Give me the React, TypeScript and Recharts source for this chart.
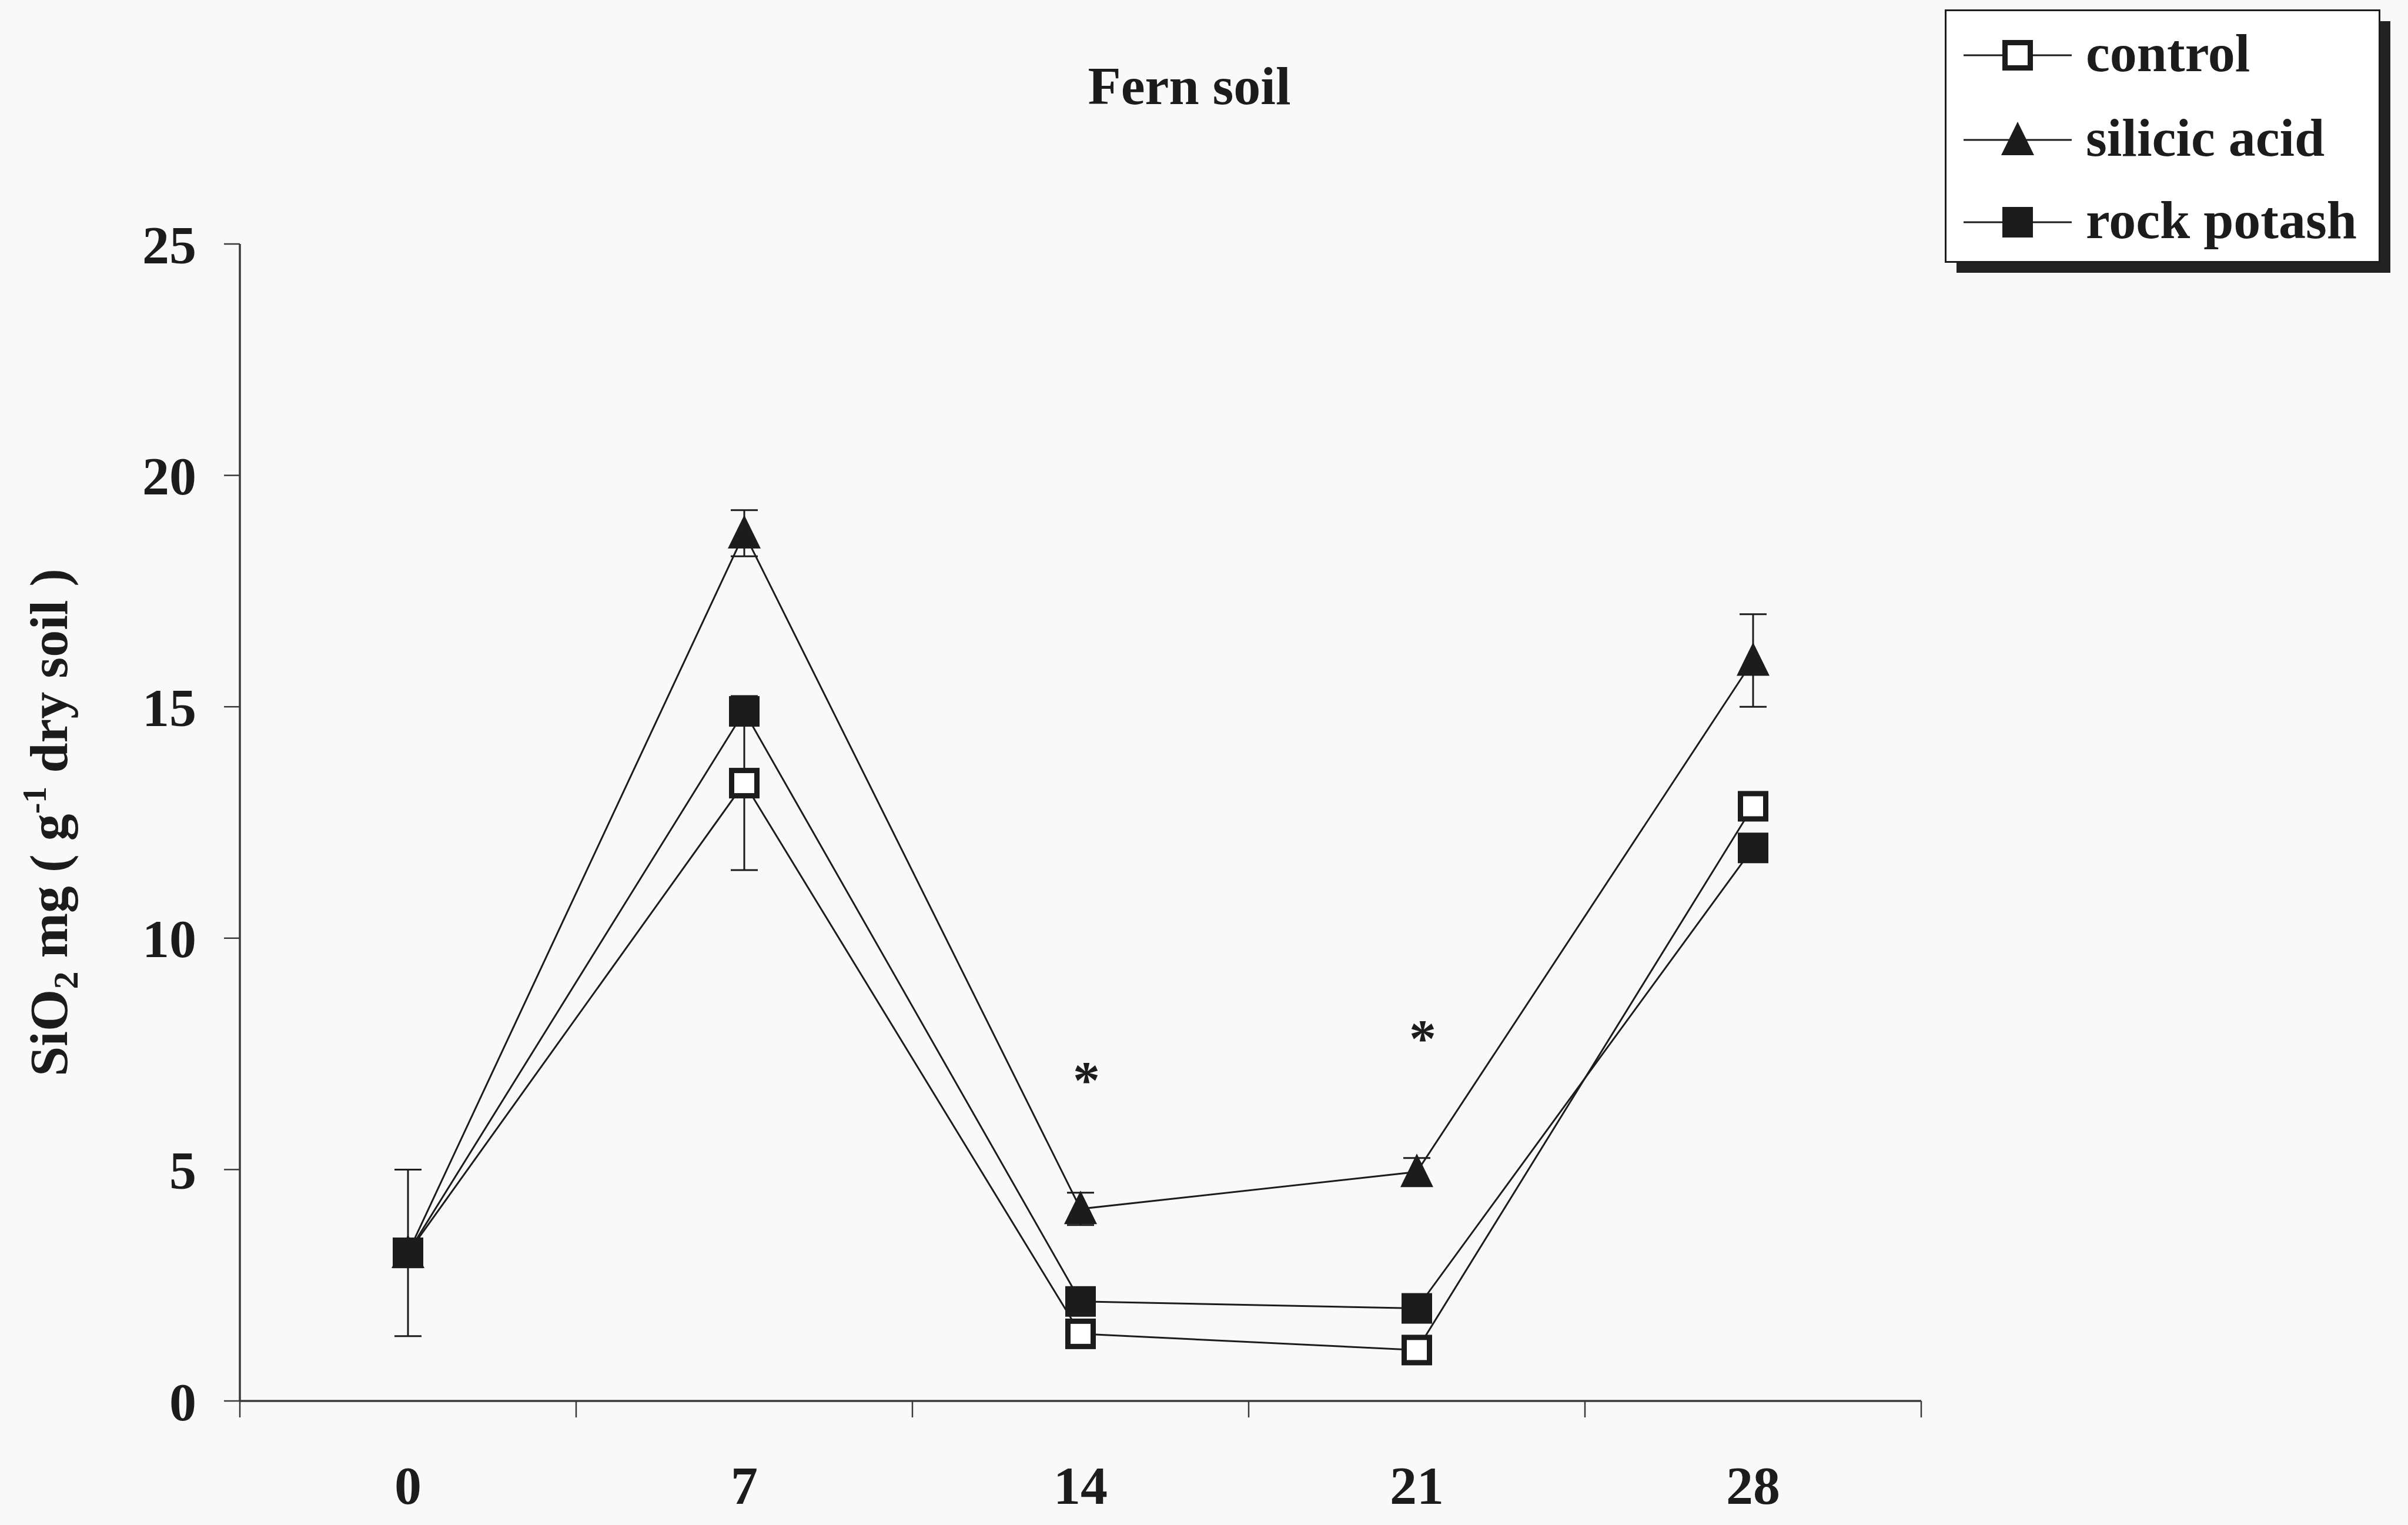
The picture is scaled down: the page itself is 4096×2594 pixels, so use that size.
import React from 'react';
import { LineChart, Line, XAxis, YAxis, ErrorBar, ReferenceDot, Legend } from 'recharts';

// ---------- data ----------
const days = [0, 7, 14, 21, 28];
const dayBoundaries = [-3.5, 3.5, 10.5, 17.5, 24.5, 31.5];
const yTicks = [0, 5, 10, 15, 20, 25];
const seriesNames = ['control', 'silicic acid', 'rock potash'];
const controlValues = [3.2, 13.35, 1.45, 1.1, 12.85];
const controlErrors = [1.8, 1.88, 0, 0, 0];
const silicicValues = [3.2, 18.75, 4.15, 4.95, 16.0];
const silicicErrors = [0, 0.5, 0.35, 0.3, 1.0];
const rockValues = [3.2, 14.9, 2.15, 2.0, 11.95];
const significanceStars = [
  { day: 14, y: 7.1 },
  { day: 21, y: 8.0 },
];
const chartTitle = 'Fern soil';

const data = days.map((d, i) => ({
  day: d,
  control: controlValues[i],
  controlErr: controlErrors[i],
  silicic: silicicValues[i],
  silicicErr: silicicErrors[i],
  rock: rockValues[i],
}));

// ---------- style ----------
const W = 4096;
const H = 2594;
const INK = '#1c1c1c';
const AXIS = '#3a3a3a';
const FONT = '"Liberation Serif", "Times New Roman", serif';
const FS = 92;
const MARK = 52;

const openSquare = (cx: number, cy: number, key?: any) => {
  const sw = 9;
  return (
    <rect key={key} x={cx - MARK / 2 + sw / 2} y={cy - MARK / 2 + sw / 2} width={MARK - sw} height={MARK - sw}
      fill="#ffffff" stroke={INK} strokeWidth={sw} />
  );
};
const filledSquare = (cx: number, cy: number, key?: any) => (
  <rect key={key} x={cx - MARK / 2} y={cy - MARK / 2} width={MARK} height={MARK} fill={INK} />
);
const triangle = (cx: number, cy: number, key?: any) => (
  <polygon key={key} points={`${cx},${cy - 31} ${cx + 28},${cy + 26} ${cx - 28},${cy + 26}`} fill={INK} />
);
const markerFor: Record<string, (cx: number, cy: number, key?: any) => any> = {
  'control': openSquare,
  'silicic acid': triangle,
  'rock potash': filledSquare,
};

const dotRenderer = (name: string) => (p: any) => {
  if (p.cx == null || p.cy == null) return <g key={p.index} />;
  return markerFor[name](p.cx, p.cy, `${name}-${p.index}`);
};

const LegendBox = (props: any) => {
  const payload: any[] = props.payload || [];
  const ordered = seriesNames
    .map((n) => payload.find((e) => e.value === n))
    .filter(Boolean);
  const bw = 738;
  const bh = 428;
  const rowY = [78, 222, 362];
  return (
    <svg width={780} height={470} style={{ display: 'block' }}>
      <rect x={20} y={20} width={bw} height={bh} fill="#222" />
      <rect x={1.5} y={1.5} width={bw} height={bh} fill="#ffffff" stroke={INK} strokeWidth={3} />
      {ordered.map((entry: any, i: number) => {
        const cy = rowY[i];
        return (
          <g key={entry.value}>
            <line x1={32} x2={216} y1={cy} y2={cy} stroke={INK} strokeWidth={3} />
            {markerFor[entry.value](124, cy)}
            <text x={240} y={cy + 27} fontFamily={FONT} fontWeight="bold" fontSize={FS} fill={INK}>
              {entry.value}
            </text>
          </g>
        );
      })}
    </svg>
  );
};

const YLabel = (props: any) => {
  const vb = props.viewBox || { x: 0, y: 0, width: 0, height: 0 };
  const x = vb.x + 36;
  const y = vb.y + vb.height / 2;
  return (
    <text transform={`translate(${x}, ${y}) rotate(-90)`} textAnchor="middle" fontFamily={FONT}
      fontWeight="bold" fontSize={FS} fill={INK}>
      SiO
      <tspan dy={18} fontSize={60}>2</tspan>
      <tspan dy={-18}> mg ( g</tspan>
      <tspan dy={-36} fontSize={56}>-1</tspan>
      <tspan dy={36}> dry soil )</tspan>
    </text>
  );
};

const starLabel = (p: any) => {
  const vb = p.viewBox || { x: 0, y: 0 };
  return (
    <text x={vb.x + 10} y={vb.y} dy={44} textAnchor="middle" fontFamily={FONT} fontWeight="bold"
      fontSize={FS} fill={INK}>
      *
    </text>
  );
};

const emptyTick = () => '';

export default function App() {
  return (
    <div style={{ position: 'absolute', left: 0, top: 0, width: W, height: H, background: '#f9f9f9' }}>
      <div
        style={{
          position: 'absolute', left: 1523, top: 100, width: 1000, textAlign: 'center',
          fontFamily: FONT, fontWeight: 'bold', fontSize: FS, lineHeight: `${FS}px`, color: INK,
        }}
      >
        {chartTitle}
      </div>
      <LineChart width={W} height={H} data={data} margin={{ top: 415, right: 828, bottom: 0, left: 78 }}>
        <XAxis xAxisId="b_labels" type="number" dataKey="day" domain={[-3.5, 31.5]} ticks={days}
          axisLine={false} tickLine={false} tickSize={0} tickMargin={80} height={181}
          tick={{ fontFamily: FONT, fontWeight: 'bold', fontSize: FS, fill: INK }} />
        <XAxis xAxisId="a_ticks" type="number" dataKey="day" domain={[-3.5, 31.5]} ticks={dayBoundaries}
          tickFormatter={emptyTick} tick={{ fontSize: 1, fill: 'none' }} tickSize={28} height={30}
          axisLine={{ stroke: AXIS, strokeWidth: 3.5 }} tickLine={{ stroke: AXIS, strokeWidth: 2.5 }} />
        <YAxis type="number" domain={[0, 25]} ticks={yTicks} width={330} tickSize={27} tickMargin={47}
          axisLine={{ stroke: AXIS, strokeWidth: 3.5 }} tickLine={{ stroke: AXIS, strokeWidth: 2.5 }}
          tick={{ fontFamily: FONT, fontWeight: 'bold', fontSize: FS, fill: INK }}
          label={{ content: YLabel }} />
        <Legend layout="vertical" align="center" verticalAlign="middle" content={LegendBox}
          wrapperStyle={{ left: 3308, top: 16, width: 780, height: 470 }} />
        <Line xAxisId="a_ticks" name="silicic acid" dataKey="silicic" stroke={INK} strokeWidth={3}
          isAnimationActive={false} dot={dotRenderer('silicic acid')} activeDot={false}>
          <ErrorBar dataKey="silicicErr" direction="y" width={23} stroke={INK} strokeWidth={3} />
        </Line>
        <Line xAxisId="a_ticks" name="control" dataKey="control" stroke={INK} strokeWidth={3}
          isAnimationActive={false} dot={dotRenderer('control')} activeDot={false}>
          <ErrorBar dataKey="controlErr" direction="y" width={23} stroke={INK} strokeWidth={3} />
        </Line>
        <Line xAxisId="a_ticks" name="rock potash" dataKey="rock" stroke={INK} strokeWidth={3}
          isAnimationActive={false} dot={dotRenderer('rock potash')} activeDot={false} />
        {significanceStars.map((s) => (
          <ReferenceDot key={s.day} xAxisId="a_ticks" x={s.day} y={s.y} r={0} fill="none" stroke="none"
            label={{ content: starLabel }} />
        ))}
      </LineChart>
    </div>
  );
}
